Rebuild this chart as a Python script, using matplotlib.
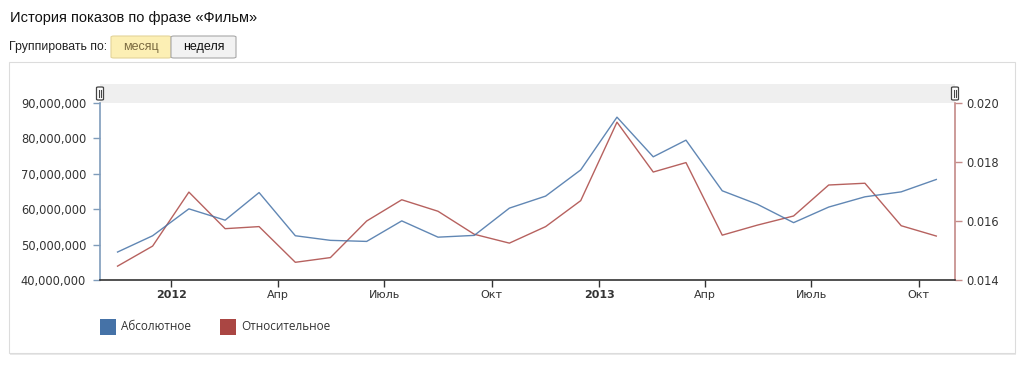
import numpy as np
import pandas as pd
import matplotlib
matplotlib.use('Agg')
import matplotlib.pyplot as plt
import matplotlib.dates as mdates
from matplotlib.patches import Rectangle, FancyBboxPatch
from matplotlib.lines import Line2D

# ── data ────────────────────────────────────────────────────────────
months = ['2011-11', '2011-12', '2012-01', '2012-02', '2012-03', '2012-04',
          '2012-05', '2012-06', '2012-07', '2012-08', '2012-09', '2012-10',
          '2012-11', '2012-12', '2013-01', '2013-02', '2013-03', '2013-04',
          '2013-05', '2013-06', '2013-07', '2013-08', '2013-09', '2013-10']
absolute = [47.9e6, 52.5e6, 60.1e6, 56.9e6, 64.7e6, 52.5e6,
            51.2e6, 50.9e6, 56.7e6, 52.1e6, 52.6e6, 60.3e6,
            63.7e6, 71.1e6, 86.0e6, 74.8e6, 79.5e6, 65.2e6,
            61.4e6, 56.2e6, 60.6e6, 63.5e6, 64.9e6, 68.4e6]
relative = [0.01447, 0.01515, 0.01698, 0.01574, 0.01581, 0.01460,
            0.01476, 0.01600, 0.01672, 0.01633, 0.01555, 0.01525,
            0.01581, 0.01669, 0.01935, 0.01766, 0.01798, 0.01552,
            0.01586, 0.01617, 0.01722, 0.01728, 0.01584, 0.01549]
tick_months = ['2012-01', '2012-04', '2012-07', '2012-10',
               '2013-01', '2013-04', '2013-07', '2013-10']
tick_labels = ['2012', 'Апр', 'Июль', 'Окт', '2013', 'Апр', 'Июль', 'Окт']
left_ticks = [40e6, 50e6, 60e6, 70e6, 80e6, 90e6]
right_ticks = [0.014, 0.016, 0.018, 0.020]
legend_labels = ['Абсолютное', 'Относительное']

BLUE = '#4572A7'
RED = '#AA4643'
W, H = 1024, 365

# points sit in the middle of each month
x = pd.to_datetime(months) + pd.Timedelta(days=15)
xt = pd.to_datetime(tick_months)

fig = plt.figure(figsize=(W / 100, H / 100), dpi=100)
fig.patch.set_facecolor('white')


def fx(px):
    return px / W


def fy(py):
    return 1 - py / H


# ── header: title and grouping buttons ──────────────────────────────
fig.text(fx(10), fy(18), 'История показов по фразе «Фильм»', fontsize=10.5,
         family='Liberation Sans', color='#111111', va='center', ha='left')
fig.text(fx(9), fy(47), 'Группировать по:', fontsize=8.8,
         family='Liberation Sans', color='#222222', va='center', ha='left')
fig.patches.append(FancyBboxPatch((fx(111), fy(58)), fx(60), 22 / H,
                                  boxstyle='round,pad=0,rounding_size=0.003',
                                  transform=fig.transFigure, facecolor='#fcefb4',
                                  edgecolor='#e3d49a', lw=0.8, zorder=-1))
fig.patches.append(FancyBboxPatch((fx(171), fy(58)), fx(65), 22 / H,
                                  boxstyle='round,pad=0,rounding_size=0.003',
                                  transform=fig.transFigure, facecolor='#f2f2f2',
                                  edgecolor='#a8a8a8', lw=0.8, zorder=-1))
fig.text(fx(141), fy(47), 'месяц', fontsize=9, family='Liberation Sans',
         color='#7a6a40', va='center', ha='center')
fig.text(fx(203.5), fy(47), 'неделя', fontsize=9, family='Liberation Sans',
         color='#111111', va='center', ha='center')

# ── chart panel ─────────────────────────────────────────────────────
fig.patches.append(Rectangle((fx(10), fy(355)), fx(1006), 291 / H,
                             transform=fig.transFigure, facecolor='#e9e9e9',
                             edgecolor='none', zorder=-3))
fig.patches.append(Rectangle((fx(9), fy(353)), fx(1006), 291 / H,
                             transform=fig.transFigure, facecolor='white',
                             edgecolor='#dcdcdc', lw=0.8, zorder=-2))
# navigator band above the plot
fig.patches.append(Rectangle((fx(100), fy(103)), fx(855), 19 / H,
                             transform=fig.transFigure, facecolor='#efefef',
                             edgecolor='none', zorder=-1))

ax = fig.add_axes([fx(100), fy(280), fx(855), 177 / H])
ax2 = ax.twinx()
ax2.set_zorder(1)
ax.set_zorder(2)
ax.patch.set_visible(False)
ax2.patch.set_visible(False)

ax.plot(x, absolute, color=BLUE, lw=1.0, alpha=0.85)
ax2.plot(x, relative, color=RED, lw=1.0, alpha=0.85)

ax.set_xlim(pd.Timestamp('2011-11-01'), pd.Timestamp('2013-11-01'))
ax.set_ylim(40e6, 90e6)
ax2.set_ylim(0.014, 0.020)

ax.set_xticks(xt)
ax.set_xticklabels(tick_labels)
for lab, txt in zip(ax.get_xticklabels(), tick_labels):
    lab.set_fontweight('bold' if txt.isdigit() else 'normal')
ax2.set_xticks(xt)
ax2.grid(axis='x', color='#e3e3e3', lw=1)
ax2.tick_params(axis='x', bottom=False, labelbottom=False)
ax.tick_params(axis='x', length=5, width=1, color='#333333', pad=2.5,
               labelsize=8, labelcolor='#333333')

ax.set_yticks(left_ticks)
ax.set_yticklabels([f'{v:,.0f}' for v in left_ticks])
ax.tick_params(axis='y', length=5, width=1, color='#7f9cbb', pad=5,
               labelsize=8.3, labelcolor='#333333')
ax2.set_yticks(right_ticks)
ax2.set_yticklabels([f'{v:.3f}' for v in right_ticks])
ax2.tick_params(axis='y', length=5, width=1, color='#c48a88', pad=3,
                labelsize=8.3, labelcolor='#333333')

for a in (ax, ax2):
    a.spines['top'].set_visible(False)
    a.spines['left'].set_color('#7f9cbb')
    a.spines['right'].set_color('#c48a88')
    a.spines['bottom'].set_color('#333333')
    for s in ('left', 'right', 'bottom'):
        a.spines[s].set_linewidth(1.2)
ax.spines['right'].set_visible(False)
ax2.spines['left'].set_visible(False)
ax2.spines['bottom'].set_visible(False)

# navigator handles
for hx in (100, 955):
    fig.patches.append(FancyBboxPatch((fx(hx - 3.5), fy(100)), fx(7), 13 / H,
                                      boxstyle='round,pad=0,rounding_size=0.002',
                                      transform=fig.transFigure, facecolor='white',
                                      edgecolor='#444444', lw=0.9, zorder=5))
    for dx in (-1, 1):
        fig.lines.append(Line2D([fx(hx + dx), fx(hx + dx)], [fy(97), fy(90)],
                                transform=fig.transFigure, color='#444444',
                                lw=0.8, zorder=6))

# ── legend ──────────────────────────────────────────────────────────
for i, (lab, col) in enumerate(zip(legend_labels, [BLUE, RED])):
    x0 = 100 + i * 120
    fig.patches.append(Rectangle((fx(x0), fy(335)), fx(16), 16 / H,
                                 transform=fig.transFigure, facecolor=col,
                                 edgecolor='none', zorder=2))
    fig.text(fx(x0 + 21), fy(327), lab, fontsize=8.5, family='Open Sans',
             color='#333333', va='center', ha='left')

fig.savefig('out.png', dpi=100)
